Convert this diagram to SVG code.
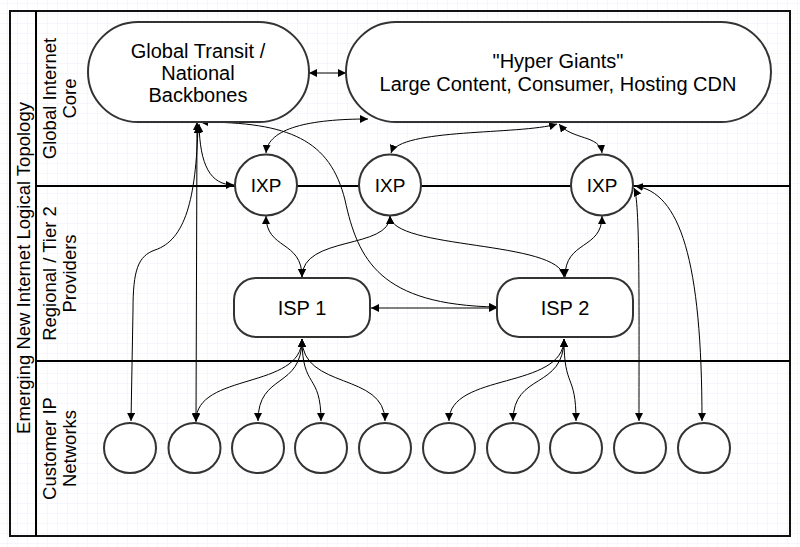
<svg xmlns="http://www.w3.org/2000/svg" width="800" height="547" viewBox="0 0 800 547">
  <defs>
    <pattern id="grid" x="7" y="3" width="10" height="10" patternUnits="userSpaceOnUse">
      <path d="M0,0 L0,10 M0,0 L10,0" stroke="#eeeefa" stroke-width="1" fill="none"/>
    </pattern>
    <marker id="arr" viewBox="0 0 10 10" refX="10" refY="5" markerWidth="8" markerHeight="8" markerUnits="userSpaceOnUse" orient="auto-start-reverse">
      <path d="M0,0 L10,5 L0,10 z" fill="#000"/>
    </marker>
  </defs>
  <style>
    .frame { fill: none; stroke: #111; stroke-width: 2; }
    .lane { stroke: #000; stroke-width: 2; fill: none; }
    .node { fill: #fff; stroke: #333; stroke-width: 2; }
    .conn path { fill: none; stroke: #000; stroke-width: 1; marker-start: url(#arr); marker-end: url(#arr); }
    text { font-family: "Liberation Sans", Arial, sans-serif; fill: #000; }
    .nt { font-size: 20px; text-anchor: middle; }
    .ixp { font-size: 19px; text-anchor: middle; }
    .lt { font-size: 18.5px; text-anchor: middle; }
  </style>

  <rect x="0" y="0" width="800" height="547" fill="#fff"/>
  <rect x="0" y="0" width="800" height="547" fill="url(#grid)"/>

  <g id="pool">
    <rect class="frame" x="10" y="11" width="780" height="525"/>
    <line class="lane" x1="36" y1="11" x2="36" y2="536"/>
    <line class="lane" x1="36" y1="186" x2="790" y2="186"/>
    <line class="lane" x1="36" y1="361" x2="790" y2="361"/>
    <text class="lt" transform="translate(30,268) rotate(-90)">Emerging New Internet Logical Topology</text>
  </g>
  <g id="lane-core">
    <text class="lt" transform="translate(56,98.5) rotate(-90)"><tspan x="0" y="0">Global Internet</tspan><tspan x="0" y="20">Core</tspan></text>
  </g>
  <g id="lane-regional">
    <text class="lt" transform="translate(56,273.5) rotate(-90)"><tspan x="0" y="0">Regional / Tier 2</tspan><tspan x="0" y="20">Providers</tspan></text>
  </g>
  <g id="lane-customer">
    <text class="lt" transform="translate(56,448.5) rotate(-90)"><tspan x="0" y="0">Customer IP</tspan><tspan x="0" y="20">Networks</tspan></text>
  </g>

  <g id="connectors" class="conn">
    <path d="M309,73 L346,73"/>
    <path d="M266,153 C268,128 310,119 368,119"/>
    <path d="M557,124 C520,135 400,128 391,153"/>
    <path d="M559,124 C572,140 600,135 602,153"/>
    <path d="M199,124 C200,165 210,185 234,185"/>
    <path d="M197,122 L196,422"/>
    <path d="M198,125 C196,200 185,240 155,250 C138,256 133,270 133,310 L131,421"/>
    <path d="M200,122 C290,122 330,140 345,200 C358,260 380,305 497,307"/>
    <path d="M266,216 C266,250 302,240 302,277"/>
    <path d="M390,216 C390,250 302,235 302,277"/>
    <path d="M390,216 C392,250 560,240 564,277"/>
    <path d="M602,216 C602,250 565,240 565,277"/>
    <path d="M634,188 C640,200 639,300 639,421"/>
    <path d="M635,186 C680,192 702,260 702,421"/>
    <path d="M371,308 L497,308"/>
    <path d="M302,339 C302,390 196,372 196,421"/>
    <path d="M302,339 C302,390 258,372 258,421"/>
    <path d="M302,339 C302,390 321,372 321,421"/>
    <path d="M302,339 C302,390 385,372 385,421"/>
    <path d="M564,339 C564,390 449,372 449,421"/>
    <path d="M564,339 C564,390 513,372 513,421"/>
    <path d="M564,339 C564,390 576,372 576,421"/>
  </g>

  <g id="global-transit">
    <rect class="node" x="88" y="22" width="221" height="100" rx="50" ry="50"/>
    <text class="nt" x="198" y="58">Global Transit /</text>
    <text class="nt" x="198" y="80">National</text>
    <text class="nt" x="198" y="102">Backbones</text>
  </g>
  <g id="hyper-giants">
    <rect class="node" x="346" y="22" width="425" height="100" rx="50" ry="50"/>
    <text class="nt" x="558" y="68">"Hyper Giants"</text>
    <text class="nt" x="558" y="91">Large Content, Consumer, Hosting CDN</text>
  </g>
  <g id="ixp1">
    <ellipse class="node" cx="266" cy="185" rx="31" ry="30.5"/>
    <text class="ixp" x="266" y="192">IXP</text>
  </g>
  <g id="ixp2">
    <ellipse class="node" cx="390" cy="185" rx="31" ry="30.5"/>
    <text class="ixp" x="390" y="192">IXP</text>
  </g>
  <g id="ixp3">
    <ellipse class="node" cx="602" cy="185" rx="31" ry="30.5"/>
    <text class="ixp" x="602" y="192">IXP</text>
  </g>
  <g id="isp1">
    <rect class="node" x="234" y="278" width="136" height="59" rx="22" ry="22"/>
    <text class="nt" x="302" y="315">ISP 1</text>
  </g>
  <g id="isp2">
    <rect class="node" x="497" y="278" width="136" height="59" rx="22" ry="22"/>
    <text class="nt" x="565" y="315">ISP 2</text>
  </g>
  <g id="customer1"><ellipse class="node" cx="130" cy="448" rx="26" ry="25"/></g>
  <g id="customer2"><ellipse class="node" cx="194.5" cy="448" rx="26" ry="25"/></g>
  <g id="customer3"><ellipse class="node" cx="258" cy="448" rx="26" ry="25"/></g>
  <g id="customer4"><ellipse class="node" cx="321" cy="448" rx="26" ry="25"/></g>
  <g id="customer5"><ellipse class="node" cx="385" cy="448" rx="26" ry="25"/></g>
  <g id="customer6"><ellipse class="node" cx="449" cy="448" rx="26" ry="25"/></g>
  <g id="customer7"><ellipse class="node" cx="513" cy="448" rx="26" ry="25"/></g>
  <g id="customer8"><ellipse class="node" cx="576" cy="448" rx="26" ry="25"/></g>
  <g id="customer9"><ellipse class="node" cx="640" cy="448" rx="26" ry="25"/></g>
  <g id="customer10"><ellipse class="node" cx="704" cy="448" rx="26" ry="25"/></g>
</svg>
